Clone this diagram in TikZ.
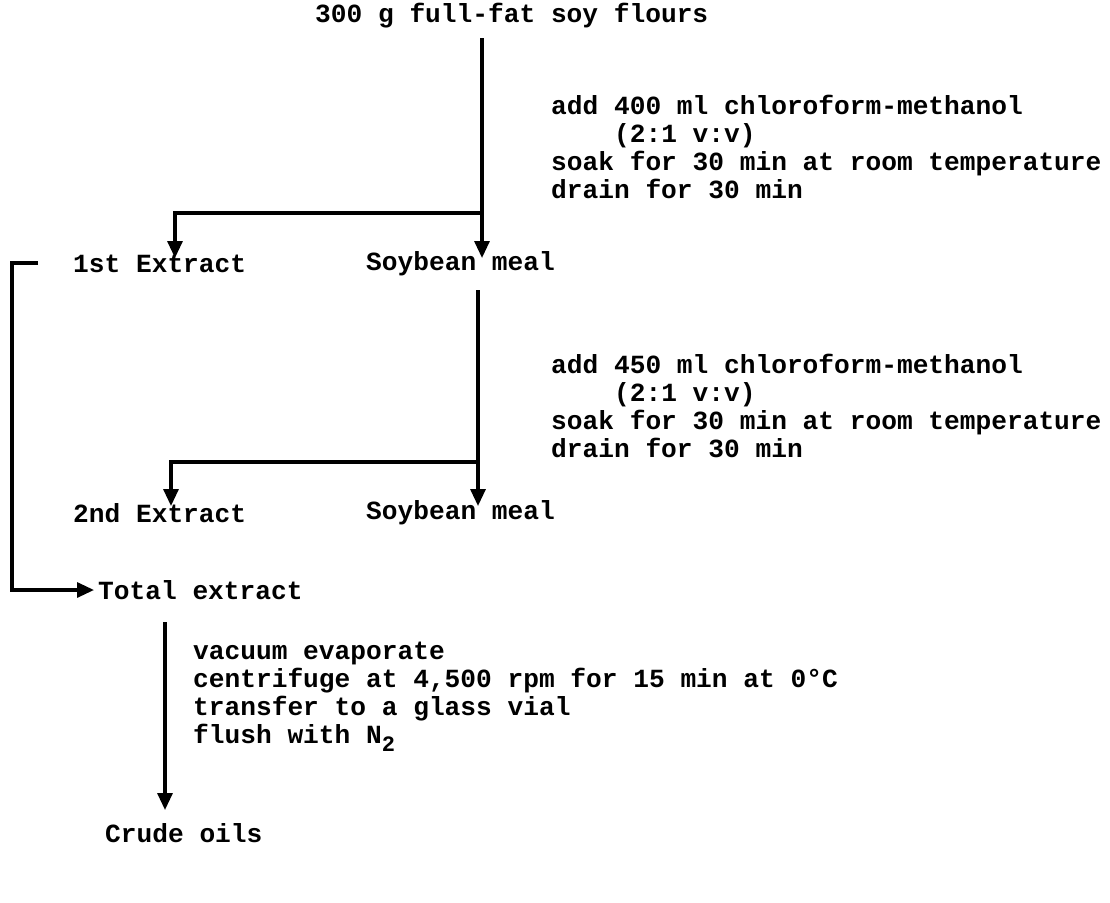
\documentclass[tikz,border=0pt]{standalone}
\usepackage{fontspec}
\setmonofont{Liberation Mono}
\usetikzlibrary{arrows.meta}
\begin{document}
\begin{tikzpicture}[x=1pt,y=-1pt,
  lbl/.style={anchor=west,inner sep=0pt,font=\ttfamily\bfseries\fontsize{26.2}{28}\selectfont},
  blk/.style={lbl,align=left,anchor=north west},
  flow/.style={line width=3.2pt,-{Triangle[length=17pt,width=15pt]}}]
\useasboundingbox (0,0) rectangle (1110,902);
% nodes
\node[lbl] (flour) at (315,16) {300 g full-fat soy flours};
\node[blk] (s1) at (551,95) {add 400 ml chloroform-methanol\\\ \ \ \ (2:1 v:v)\\soak for 30 min at room temperature\\drain for 30 min};
\node[lbl] (ext1) at (73,264) {1st Extract};
\node[lbl] (meal1) at (366,264) {Soybean meal};
\node[blk] (s2) at (551,354) {add 450 ml chloroform-methanol\\\ \ \ \ (2:1 v:v)\\soak for 30 min at room temperature\\drain for 30 min};
\node[lbl] (ext2) at (73,513) {2nd Extract};
\node[lbl] (meal2) at (366,513) {Soybean meal};
\node[lbl] (total) at (98,590) {Total extract};
\node[blk] (s3) at (193,642) {vacuum evaporate\\centrifuge at 4,500 rpm for 15 min at 0\textdegree C\\transfer to a glass vial\\flush with N\raisebox{-8pt}{\fontsize{22}{22}\selectfont 2}};
\node[lbl] (crude) at (105,833) {Crude oils};
% coordinates
\coordinate (v1top) at (482,38);
\coordinate (v1br) at (482,213);
\coordinate (v1end) at (482,258);
\coordinate (l1end) at (175,258);
\coordinate (v2top) at (478,290);
\coordinate (v2br) at (478,462);
\coordinate (v2end) at (478,506);
\coordinate (l2end) at (171,506);
\coordinate (bt) at (12,263);
\coordinate (btick) at (38,263);
\coordinate (bb) at (12,590);
\coordinate (bend) at (94,590);
\coordinate (v3top) at (165,622);
\coordinate (v3end) at (165,810);
% connectors
\draw[flow] (v1top) -- (v1end);
\draw[flow] (v1br) -| (l1end);
\draw[flow] (v2top) -- (v2end);
\draw[flow] (v2br) -| (l2end);
\draw[flow] (btick) -- (bt) -- (bb) -- (bend);
\draw[flow] (v3top) -- (v3end);
\end{tikzpicture}
\end{document}
